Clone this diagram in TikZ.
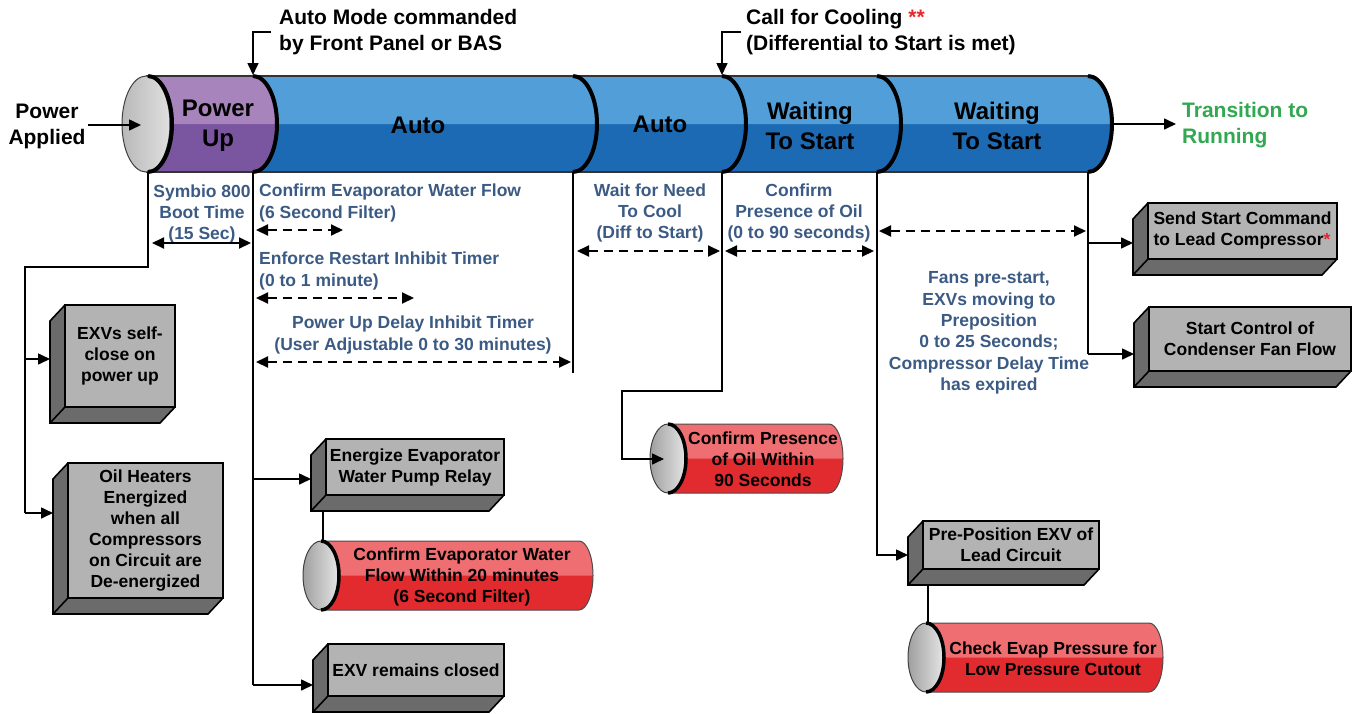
\documentclass[tikz,border=0pt]{standalone}
\usepackage{fontspec}
\setmainfont{Liberation Sans}
\usetikzlibrary{arrows.meta,fit}
\definecolor{bluelt}{HTML}{519ED8}
\definecolor{bluedk}{HTML}{1C6AB4}
\definecolor{purplt}{HTML}{A784BC}
\definecolor{purpdk}{HTML}{7B56A0}
\definecolor{redlt}{HTML}{EE6E71}
\definecolor{reddk}{HTML}{E22B2F}
\definecolor{boxlt}{HTML}{B3B3B3}
\definecolor{boxdk}{HTML}{6B6B6B}
\definecolor{lblue}{HTML}{3B5A84}
\definecolor{tgreen}{HTML}{33A852}
\definecolor{starred}{HTML}{E8262B}

\newcommand{\cylseg}[4]{%
  \fill[#4] (#1,76) -- (#2,76) arc[start angle=-90,end angle=90,x radius=24,y radius=48] -- (#1,172) arc[start angle=90,end angle=-90,x radius=24,y radius=48] -- cycle;
  \fill[#3] (#1,76) -- (#2,76) arc[start angle=-90,end angle=0,x radius=24,y radius=48] -- (#1+24,124) arc[start angle=0,end angle=-90,x radius=24,y radius=48] -- cycle;
}
\newcommand{\divarc}[1]{\draw[line width=4pt, black] (#1,76) arc[start angle=-90,end angle=90,x radius=24,y radius=48];}

\newcommand{\redcyl}[7]{%
  \fill[reddk] (#2,#3-#4) -- (#5,#3-#4) arc[start angle=-90,end angle=90,x radius=14,y radius=#4] -- (#2,#3+#4) -- cycle;
  \fill[redlt] (#2,#3-#4) -- (#5,#3-#4) arc[start angle=-90,end angle=0,x radius=14,y radius=#4] -- (#2,#3) -- cycle;
  \draw[line width=1pt, gray!60!black] (#2,#3-#4) -- (#5,#3-#4) arc[start angle=-90,end angle=90,x radius=14,y radius=#4] -- (#2,#3+#4);
  \shadedraw[left color=gray!75, right color=gray!20, draw=gray!50!black, line width=1pt] (#2,#3) ellipse[x radius=18,y radius=#4];
  \draw[line width=3.5pt] (#2,#3-#4) arc[start angle=-90,end angle=90,x radius=18,y radius=#4];
  \node[btxt] (#1) at (#6,#3+1) {#7};
}

\newcommand{\tdbox}[7]{%
  \fill[boxdk] (#2,#3) -- (#2,#5) -- (#4,#5) -- (#4-15,#5+16) -- (#2-15,#5+16) -- (#2-15,#3+16) -- cycle;
  \draw[boxline] (#2,#3) -- (#2-15,#3+16) -- (#2-15,#5+16) -- (#4-15,#5+16) -- (#4,#5);
  \draw[boxline] (#2,#5) -- (#2-15,#5+16);
  \node[boxfront, fit={(#2,#3) (#4,#5)}] (#1) {};
  \node[btxt] at (#1.center) {#7};
  \coordinate (#1-in) at (#2-15,#6);
}

\begin{document}
\begin{tikzpicture}[x=1pt,y=-1pt,
  conn/.style={line width=1.6pt, black},
  arr/.style={conn, -{Triangle[length=12pt,width=11pt]}},
  darr/.style={line width=2pt, dash pattern=on 9pt off 6pt, {Triangle[length=12pt,width=11pt]}-{Triangle[length=12pt,width=11pt]}},
  sarr/.style={line width=2pt, {Triangle[length=12pt,width=11pt]}-{Triangle[length=12pt,width=11pt]}},
  lbl/.style={text=lblue, font=\fontsize{17.5}{21.3}\selectfont\bfseries, align=center, inner sep=0pt},
  btxt/.style={text=black, font=\fontsize{17.5}{21}\selectfont\bfseries, align=center, inner sep=0pt},
  big/.style={text=black, font=\fontsize{21}{26}\selectfont\bfseries, align=center, inner sep=0pt},
  cyl/.style={text=black, font=\fontsize{24}{30}\selectfont\bfseries, align=center, inner sep=0pt},
  boxline/.style={black, line width=1.6pt, line join=miter},
  boxfront/.style={draw=black, fill=boxlt, line width=1.6pt, inner sep=0pt}]
\useasboundingbox (0,0) rectangle (1353,713);

% ---------- main cylinder ----------
\cylseg{148}{253}{purplt}{purpdk}
\cylseg{253}{573}{bluelt}{bluedk}
\cylseg{573}{722}{bluelt}{bluedk}
\cylseg{722}{877}{bluelt}{bluedk}
\cylseg{877}{1088}{bluelt}{bluedk}
\draw[line width=1.2pt, gray!40!black] (146,76) -- (1088,76) (146,172) -- (1088,172);
\shadedraw[left color=gray!55, right color=gray!25, draw=gray!50!black, line width=1pt] (146,124) ellipse[x radius=24,y radius=48];
\divarc{148}\divarc{253}\divarc{573}\divarc{722}\divarc{877}\divarc{1088}

\node[cyl] (pu) at (218,126) {Power\\Up};
\node[cyl] (auto1) at (418,125) {Auto};
\node[cyl] (auto2) at (660,124) {Auto};
\node[cyl] (wait1) at (810,126) {Waiting\\To Start};
\node[cyl] (wait2) at (997,126) {Waiting\\To Start};

\coordinate (d1) at (148,172);
\coordinate (d2) at (253,172);
\coordinate (d3) at (573,172);
\coordinate (d4) at (722,172);
\coordinate (d5) at (877,172);
\coordinate (d6) at (1088,172);
\coordinate (cap) at (141,125);
\coordinate (cylend) at (1112,124);

% ---------- side / top texts ----------
\node[big] (pa) at (47,126) {Power\\Applied};
\draw[arr] ([xshift=2pt]pa.east |- cap) -- (cap);
\node[big, text=tgreen, align=left, anchor=west] (tr) at (1182,125) {Transition to\\Running};
\draw[arr] (cylend) -- ([xshift=-6pt]tr.west |- cylend);

\node[big, align=left, anchor=west] (am) at (279,32) {Auto Mode commanded\\by Front Panel or BAS};
\coordinate (amk) at (271,32);
\coordinate (amt) at (253,75);
\draw[arr] (amk) -| (amt);
\node[big, align=left, anchor=west] (cc) at (746,32) {Call for Cooling \textcolor{starred}{**}\\(Differential to Start is met)};
\coordinate (cck) at (741,32);
\coordinate (cct) at (722,75);
\draw[arr] (cck) -| (cct);

% ---------- timing labels ----------
\node[lbl] (boot) at (202,214) {Symbio 800\\Boot Time\\(15 Sec)};
\coordinate (b1) at (152,243); \coordinate (b2) at (251,243);
\draw[sarr] (b1) -- (b2);

\node[lbl, anchor=west, align=left] (cewf) at (259,203) {Confirm Evaporator Water Flow\\(6 Second Filter)};
\coordinate (t1a) at (256,230); \coordinate (t1b) at (343,230);
\draw[darr] (t1a) -- (t1b);
\node[lbl, anchor=west, align=left] (erit) at (259,271) {Enforce Restart Inhibit Timer\\(0 to 1 minute)};
\coordinate (t2a) at (256,298); \coordinate (t2b) at (414,298);
\draw[darr] (t2a) -- (t2b);
\node[lbl] (pudit) at (413,335) {Power Up Delay Inhibit Timer\\(User Adjustable 0 to 30 minutes)};
\coordinate (t3a) at (256,362); \coordinate (t3b) at (571,362);
\draw[darr] (t3a) -- (t3b);

\node[lbl] (wfn) at (650,213) {Wait for Need\\To Cool\\(Diff to Start)};
\coordinate (t4a) at (577,251); \coordinate (t4b) at (720,251);
\draw[darr] (t4a) -- (t4b);
\node[lbl] (cpo) at (799,213) {Confirm\\Presence of Oil\\(0 to 90 seconds)};
\coordinate (t5a) at (725,251); \coordinate (t5b) at (874,251);
\draw[darr] (t5a) -- (t5b);
\coordinate (t6a) at (879,231); \coordinate (t6b) at (1086,231);
\draw[darr] (t6a) -- (t6b);
\node[lbl] (fans) at (989,333) {Fans pre-start,\\EXVs moving to\\Preposition\\0 to 25 Seconds;\\Compressor Delay Time\\has expired};

% ---------- boxes ----------
\tdbox{exvbox}{65}{305}{175}{407}{359}{EXVs self-\\close on\\power up}
\tdbox{oilbox}{68}{463}{223}{598}{513}{Oil Heaters\\Energized\\when all\\Compressors\\on Circuit are\\De-energized}
\tdbox{energbox}{326}{439}{504}{495}{479}{Energize Evaporator\\Water Pump Relay}
\tdbox{remainbox}{328}{644}{504}{696}{685}{EXV remains closed}
\tdbox{sendbox}{1148}{203}{1337}{259}{243}{\begin{tabular}{@{}l@{}}Send Start Command\\to Lead Compressor\textcolor{starred}{*}\end{tabular}}
\tdbox{fanbox}{1149}{307}{1351}{371}{354}{Start Control of\\Condenser Fan Flow}
\tdbox{prebox}{923}{521}{1099}{569}{555}{Pre-Position EXV of\\Lead Circuit}

% ---------- red cylinders ----------
\redcyl{rc1}{321}{575.5}{34.5}{579}{462}{Confirm Evaporator Water\\Flow Within 20 minutes\\(6 Second Filter)}
\redcyl{rc2}{668}{458.5}{34.5}{829}{763}{Confirm Presence\\of Oil Within\\90 Seconds}
\redcyl{rc3}{926}{657.5}{34.5}{1149}{1053}{Check Evap Pressure for\\Low Pressure Cutout}
\coordinate (rc1-top) at (323,541);
\coordinate (rc2-in) at (664,459);
\coordinate (rc3-top) at (928,623);
\coordinate (energ-bot) at (323,512);
\coordinate (pre-bot) at (928,586);

% ---------- connectors ----------
\coordinate (lk) at (25,267);
\draw[conn] (d1) |- (lk) -- (oilbox-in -| lk);
\draw[arr] (exvbox-in -| lk) -- (exvbox-in);
\draw[arr] (oilbox-in -| lk) -- (oilbox-in);

\draw[conn] (d2) -- (remainbox-in -| d2);
\draw[arr] (energbox-in -| d2) -- (energbox-in);
\draw[arr] (remainbox-in -| d2) -- (remainbox-in);
\draw[conn] (energ-bot) -- (rc1-top);

\coordinate (d3e) at (573,373);
\draw[conn] (d3) -- (d3e);

\coordinate (ok1) at (722,391);
\coordinate (ok2) at (622,391);
\draw[arr] (d4) -- (ok1) -- (ok2) |- (rc2-in);

\draw[arr] (d5) |- (prebox-in);
\draw[conn] (pre-bot) -- (rc3-top);

\draw[conn] (d6) -- (fanbox-in -| d6);
\draw[arr] (sendbox-in -| d6) -- (sendbox-in);
\draw[arr] (fanbox-in -| d6) -- (fanbox-in);
\end{tikzpicture}
\end{document}
